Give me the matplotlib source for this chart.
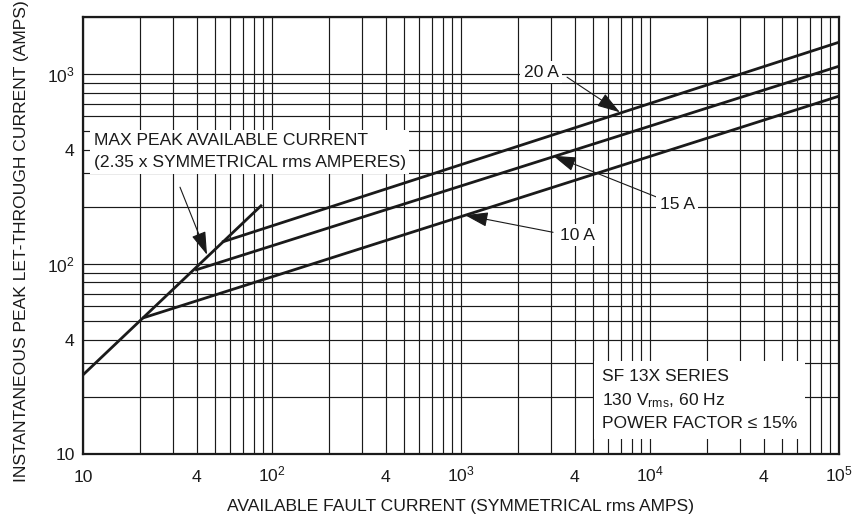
import matplotlib
matplotlib.use('Agg')
import matplotlib.pyplot as plt
from matplotlib import font_manager
from matplotlib.ticker import FixedLocator, FixedFormatter, NullFormatter

# Curves (log-log straight segments)
max_peak_x = [10, 88.5]
max_peak_y = [26.1, 205]

amp10_x = [20.7, 1e5]
amp10_y = [52.0, 766]
amp15_x = [39.2, 1e5]
amp15_y = [92.9, 1101]
amp20_x = [54.4, 1e5]
amp20_y = [130.6, 1473]

x_ticks = [10, 40, 100, 400, 1000, 4000, 10000, 40000, 100000]
x_labels = ['10', '4', r'$\mathregular{10^2}$', '4', r'$\mathregular{10^3}$', '4',
            r'$\mathregular{10^4}$', '4', r'$\mathregular{10^5}$']
y_ticks = [10, 40, 100, 400, 1000]
y_labels = ['10', '4', r'$\mathregular{10^2}$', '4', r'$\mathregular{10^3}$']

available = {f.name for f in font_manager.fontManager.ttflist}
if 'Liberation Sans Narrow' in available:
    font = 'Liberation Sans Narrow'
    fs = 14
else:
    font = 'Liberation Sans'
    fs = 12.6
plt.rcParams['font.family'] = [font, 'DejaVu Sans']
plt.rcParams['mathtext.fontset'] = 'custom'
plt.rcParams['mathtext.rm'] = font
plt.rcParams['mathtext.it'] = font

fig = plt.figure(figsize=(8.57, 5.16), dpi=100)
ax = fig.add_axes([83 / 857, 62 / 516, 756 / 857, 437 / 516])
ax.set_xscale('log')
ax.set_yscale('log')
ax.set_xlim(10, 1e5)
ax.set_ylim(10, 2000)

ax.grid(True, which='both', color='#1a1a1a', linewidth=0.85)
ax.set_axisbelow(True)

ax.xaxis.set_major_locator(FixedLocator(x_ticks))
ax.xaxis.set_major_formatter(FixedFormatter(x_labels))
ax.xaxis.set_minor_formatter(NullFormatter())
ax.yaxis.set_major_locator(FixedLocator(y_ticks))
ax.yaxis.set_major_formatter(FixedFormatter(y_labels))
ax.yaxis.set_minor_formatter(NullFormatter())
ax.tick_params(which='both', length=0, labelsize=fs, colors='#1a1a1a')
ax.tick_params(axis='x', pad=20)
ax.tick_params(axis='y', pad=6)
for lbl in ax.get_xticklabels():
    lbl.set_verticalalignment('baseline')

for s in ax.spines.values():
    s.set_linewidth(1.6)
    s.set_color('#1a1a1a')

lw = 2.0
for xs, ys in [(max_peak_x, max_peak_y), (amp10_x, amp10_y),
               (amp15_x, amp15_y), (amp20_x, amp20_y)]:
    ax.plot(xs, ys, color='#1a1a1a', linewidth=lw, solid_capstyle='butt', zorder=3)

box = dict(facecolor='white', edgecolor='none', boxstyle='square,pad=0.2')
arrow = dict(arrowstyle='-|>,head_length=1.1,head_width=0.35', color='#1a1a1a',
             linewidth=0.8, shrinkA=0, shrinkB=0, mutation_scale=13)

ax.text(11.4, 391, 'MAX PEAK AVAILABLE CURRENT\n(2.35 x SYMMETRICAL rms AMPERES)',
        fontsize=fs, ha='left', va='center', linespacing=1.6, color='#1a1a1a',
        bbox=box, zorder=5)
ax.annotate('', xy=(45.3, 112), xytext=(32.6, 254), arrowprops=arrow, zorder=4)

ax.text(2650, 1025, '20 A', fontsize=fs, ha='center', va='center',
        color='#1a1a1a', bbox=box, zorder=5)
ax.annotate('', xy=(6930, 630), xytext=(3640, 964), arrowprops=arrow, zorder=4)

ax.text(13900, 207, '15 A', fontsize=fs, ha='center', va='center',
        color='#1a1a1a', bbox=box, zorder=5)
ax.annotate('', xy=(3070, 372), xytext=(10890, 225), arrowprops=arrow, zorder=4)

ax.text(4110, 142, '10 A', fontsize=fs, ha='center', va='center',
        color='#1a1a1a', bbox=box, zorder=5)
ax.annotate('', xy=(1050, 181), xytext=(3070, 147), arrowprops=arrow, zorder=4)

ax.text(5570, 19.2, 'SF 13X SERIES\n130 V$_{\\mathregular{rms}}$, 60 Hz\nPOWER FACTOR \u2264 15%',
        fontsize=fs, ha='left', va='center', linespacing=1.5, color='#1a1a1a',
        bbox=dict(facecolor='white', edgecolor='none', boxstyle='square,pad=0.45'),
        zorder=5)

ax.set_xlabel('AVAILABLE FAULT CURRENT (SYMMETRICAL rms AMPS)', fontsize=fs,
              color='#1a1a1a', labelpad=10)
fig.text(22 / 857, (516 - 482) / 516, 'INSTANTANEOUS PEAK LET-THROUGH CURRENT (AMPS)',
         rotation=90, ha='center', va='bottom', fontsize=fs, color='#1a1a1a')

fig.savefig('out.png', dpi=100)
